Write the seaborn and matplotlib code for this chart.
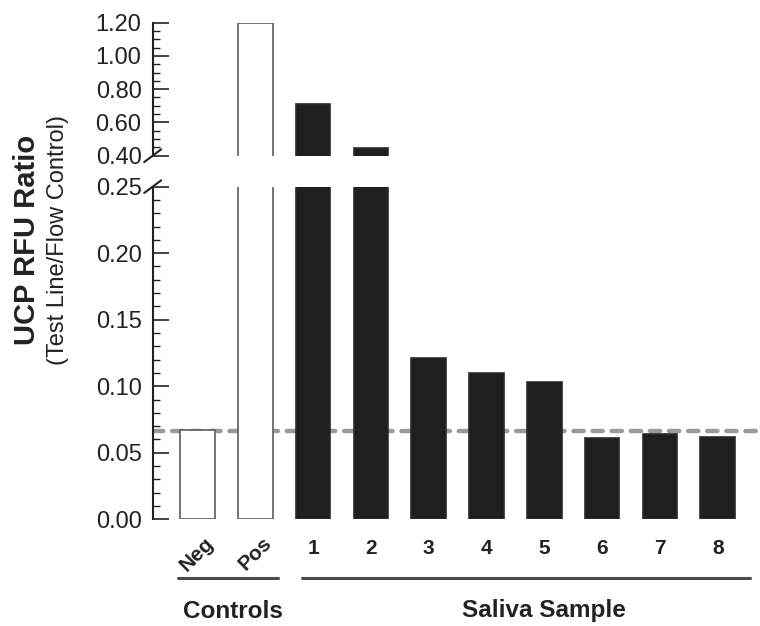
"""
UCP RFU ratio per saliva sample, with a broken y axis
"""
import matplotlib
matplotlib.use('Agg')
import matplotlib.pyplot as plt
from matplotlib.lines import Line2D
from matplotlib.ticker import MultipleLocator, FormatStrFormatter
from matplotlib.transforms import offset_copy
import seaborn as sns
import pandas as pd

# data
samples = ["Neg", "Pos", "1", "2", "3", "4", "5", "6", "7", "8"]
groups = ["Controls", "Controls"] + ["Saliva Sample"] * 8
ratios = [0.067, 1.20, 0.713, 0.447, 0.121, 0.110, 0.103, 0.061, 0.064, 0.062]
cutoff = 0.066
group_names = ["Controls", "Saliva Sample"]

sns.set_style('white')
plt.rcParams['font.family'] = ['Liberation Sans', 'DejaVu Sans']

df = pd.DataFrame({'sample': samples, 'group': groups, 'ratio': ratios})
palette = {"Controls": "white", "Saliva Sample": "#1e1f21"}

fig = plt.figure(figsize=(7.6, 6.26), dpi=100)
ax_top = fig.add_axes([0.2009, 0.7513, 0.799, 0.2125])
ax_bot = fig.add_axes([0.2009, 0.1705, 0.799, 0.5313])

ink = '#222222'
for ax in (ax_top, ax_bot):
    sns.barplot(data=df, x='sample', y='ratio', hue='group', palette=palette,
                order=samples, dodge=False, width=0.6, errorbar=None,
                legend=False, ax=ax, zorder=3)
    for p in ax.patches:
        if p.get_facecolor()[0] > 0.9:
            p.set_edgecolor('#5c5c5c')
        else:
            p.set_edgecolor('#2a2a2a')
        p.set_linewidth(1.2)
    ax.set_xlim(-0.775, 9.73)
    for s in ('top', 'right', 'bottom'):
        ax.spines[s].set_visible(False)
    ax.spines['left'].set_linewidth(1.5)
    ax.spines['left'].set_color(ink)
    ax.set_xlabel('')
    ax.set_ylabel('')
    ax.yaxis.set_major_formatter(FormatStrFormatter('%.2f'))
    ax.tick_params(axis='y', which='major', left=True, direction='in', length=11.5,
                   width=1.2, color=ink, labelsize=17, labelcolor=ink, pad=8)
    ax.tick_params(axis='y', which='minor', left=True, direction='in', length=5,
                   width=1.0, color=ink)
    ax.set_facecolor('white')

ax_top.set_ylim(0.40, 1.20)
ax_top.yaxis.set_major_locator(MultipleLocator(0.20))
ax_top.yaxis.set_minor_locator(MultipleLocator(0.05))
ax_top.set_xticks([])

ax_bot.set_ylim(0, 0.25)
ax_bot.yaxis.set_major_locator(MultipleLocator(0.05))
ax_bot.yaxis.set_minor_locator(MultipleLocator(0.01))
ax_bot.set_xticks([])

# cutoff line behind the bars
ax_bot.axhline(cutoff, color='#9a9a9a', lw=3.2, dashes=(2.3, 2.0),
               dash_capstyle='round', zorder=1)

# x labels
xtr = ax_bot.get_xaxis_transform()
for i, name in enumerate(samples):
    if groups[i] == "Controls":
        tr = offset_copy(xtr, fig=fig, x=7, y=-14, units='dots')
        ax_bot.text(i, 0, name, transform=tr, rotation=45, rotation_mode='anchor',
                    ha='right', va='top', fontsize=15, fontweight='bold', color=ink)
    else:
        tr = offset_copy(xtr, fig=fig, x=0, y=-20, units='dots')
        ax_bot.text(i, 0, name, transform=tr, ha='center', va='top',
                    fontsize=15, fontweight='bold', color=ink)

# break marks
dx, dy_top, dy_bot = 0.014, 0.048, 0.019
ax_top.plot([-dx, dx], [-dy_top, dy_top], transform=ax_top.transAxes,
            color=ink, lw=1.5, clip_on=False)
ax_bot.plot([-dx, dx], [1 - dy_bot, 1 + dy_bot], transform=ax_bot.transAxes,
            color=ink, lw=1.5, clip_on=False)

# group brackets
line_y = 1 - 578 / 626
spans = [(178 / 760, 278 / 760), (302 / 760, 750 / 760)]
label_x = [233 / 760, 544 / 760]
for name, (x0, x1), lx in zip(group_names, spans, label_x):
    fig.add_artist(Line2D([x0, x1], [line_y, line_y], color='#4a4a4a', lw=2.2))
    fig.text(lx, 1 - 611 / 626, name, ha='center', va='center',
             fontsize=17.5, fontweight='bold', color=ink)

# y axis title
fig.text(0.036, 0.617, 'UCP RFU Ratio', rotation=90, ha='center', va='center',
         fontsize=21, fontweight='bold', color=ink)
fig.text(0.076, 0.617, '(Test Line/Flow Control)', rotation=90, ha='center',
         va='center', fontsize=17, color=ink)

fig.savefig('out.png', dpi=100)
plt.close(fig)
